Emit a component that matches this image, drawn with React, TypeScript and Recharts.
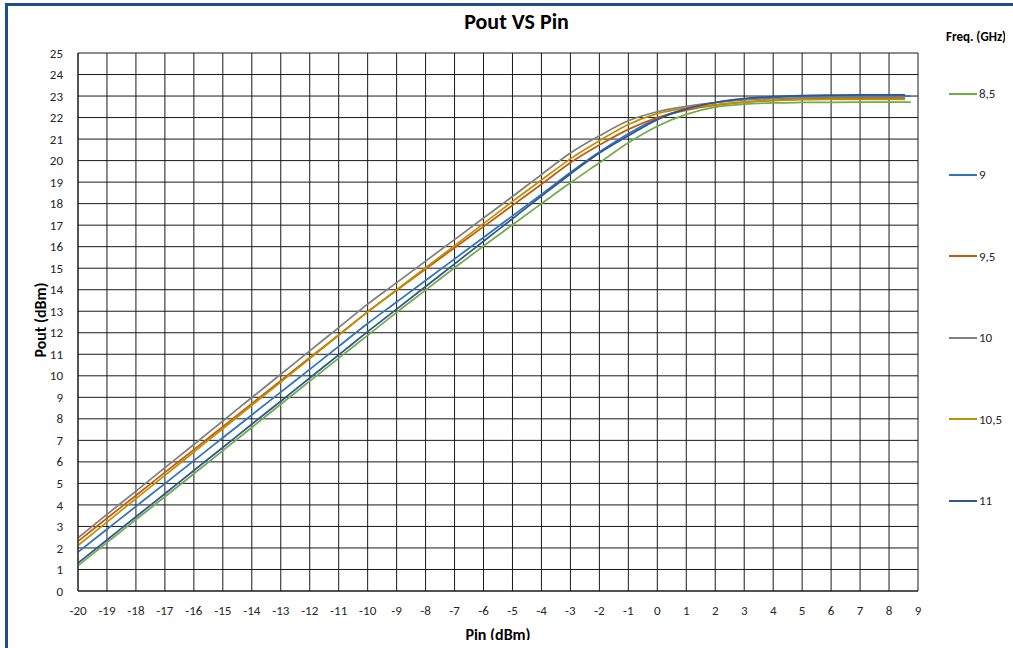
import React from 'react';
import { LineChart, Line, XAxis, YAxis, CartesianGrid, Label } from 'recharts';

// Pin sweep (dBm), shared by every frequency; last point of each series is its own end value
const pin = [-20, -19, -18, -17, -16, -15, -14, -13, -12, -11, -10, -9, -8, -7, -6, -5, -4, -3, -2, -1, 0, 1, 2, 3, 4, 5, 6, 7, 8];
const freqLabels = ['8,5', '9', '9,5', '10', '10,5', '11'];
const freqColors = ['#70AD47', '#2E75B6', '#C55A11', '#7F7F7F', '#BF9000', '#2F5597'];
const pinEnd = [8.75, 8.75, 8.55, 8.55, 8.55, 8.55];

const pout85 = [1.18, 2.25, 3.32, 4.38, 5.45, 6.52, 7.6, 8.68, 9.75, 10.82, 11.88, 12.95, 13.98, 15.02, 16.03, 17.02, 18.0, 18.97, 19.9, 20.83, 21.6, 22.15, 22.48, 22.62, 22.68, 22.7, 22.71, 22.72, 22.72, 22.72];
const pout9 = [1.81, 2.87, 3.93, 4.99, 6.06, 7.12, 8.18, 9.24, 10.3, 11.37, 12.43, 13.43, 14.43, 15.43, 16.43, 17.43, 18.43, 19.45, 20.4, 21.25, 21.95, 22.42, 22.7, 22.86, 22.94, 22.98, 23.0, 23.0, 23.0, 23.0];
const pout95 = [2.31, 3.38, 4.44, 5.51, 6.57, 7.64, 8.71, 9.77, 10.84, 11.9, 12.97, 13.97, 14.96, 15.95, 16.93, 17.92, 18.9, 19.9, 20.72, 21.45, 22.0, 22.35, 22.58, 22.72, 22.8, 22.86, 22.88, 22.89, 22.89, 22.89];
const pout10 = [2.47, 3.56, 4.64, 5.73, 6.81, 7.9, 8.99, 10.07, 11.16, 12.24, 13.33, 14.33, 15.33, 16.33, 17.33, 18.33, 19.35, 20.35, 21.15, 21.85, 22.27, 22.52, 22.7, 22.82, 22.88, 22.92, 22.94, 22.95, 22.95, 22.95];
const pout105 = [2.12, 3.2, 4.29, 5.37, 6.46, 7.54, 8.63, 9.71, 10.8, 11.88, 12.97, 14.0, 15.02, 16.05, 17.07, 18.1, 19.1, 20.08, 20.92, 21.68, 22.18, 22.45, 22.6, 22.72, 22.79, 22.83, 22.85, 22.85, 22.85, 22.85];
const pout11 = [1.3, 2.37, 3.45, 4.52, 5.6, 6.67, 7.75, 8.82, 9.9, 10.97, 12.05, 13.1, 14.15, 15.2, 16.25, 17.3, 18.35, 19.38, 20.35, 21.15, 21.9, 22.4, 22.7, 22.88, 22.97, 23.02, 23.04, 23.05, 23.05, 23.05];

const xTicks = [-20, -19, -18, -17, -16, -15, -14, -13, -12, -11, -10, -9, -8, -7, -6, -5, -4, -3, -2, -1, 0, 1, 2, 3, 4, 5, 6, 7, 8, 9];
const yTicks = [0, 1, 2, 3, 4, 5, 6, 7, 8, 9, 10, 11, 12, 13, 14, 15, 16, 17, 18, 19, 20, 21, 22, 23, 24, 25];

const allPout = [pout85, pout9, pout95, pout10, pout105, pout11];

const series = freqLabels.map((name, k) => ({
  name,
  color: freqColors[k],
  data: allPout[k].map((v, i) => ({ x: i < pin.length ? pin[i] : pinEnd[k], y: v }))
}));

const font = "Carlito, Calibri, 'Noto Sans', sans-serif";

export default function App() {
  return <div style={{ margin: -8, width: 1013, height: 648, position: 'relative', overflow: 'hidden', background: '#fff', fontFamily: font }}>
      <div style={{ position: 'absolute', left: 0, top: 8, width: 1033, textAlign: 'center', fontWeight: 'bold', fontSize: 22, color: '#000' }}>
        Pout VS Pin
      </div>
      <div style={{ position: 'absolute', left: 946, top: 29, fontWeight: 'bold', fontSize: 13, color: '#000' }}>
        Freq. (GHz)
      </div>
      {series.map((s, i) => <div key={s.name} style={{ position: 'absolute', left: 949, top: 86 + i * 81.4, display: 'flex', alignItems: 'center', fontSize: 13, color: '#262626' }}>
          <div style={{ width: 28, height: 2, background: s.color }} />
          <span style={{ marginLeft: 2 }}>{s.name}</span>
        </div>)}
      <div style={{ position: 'absolute', left: 0, top: 0 }}>
        <LineChart width={1013} height={648} margin={{ top: 53, right: 95, left: 0, bottom: 5 }}>
          <CartesianGrid stroke="#1a1a1a" strokeWidth={1} />
          <XAxis type="number" dataKey="x" domain={[-20, 9]} ticks={xTicks} interval={0} height={52}
            axisLine={{ stroke: '#1a1a1a' }} tickLine={false} tickMargin={9}
            tick={{ fontSize: 13, fill: '#262626', fontFamily: font }} allowDataOverflow>
            <Label value="Pin (dBm)" position="insideBottom" offset={3} style={{ fontSize: 16, fontWeight: 'bold', fill: '#000', fontFamily: font }} />
          </XAxis>
          <YAxis type="number" domain={[0, 25]} ticks={yTicks} interval={0} width={78}
            axisLine={{ stroke: '#1a1a1a' }} tickLine={false} tickMargin={9}
            tick={{ fontSize: 13, fill: '#262626', fontFamily: font }}>
            <Label content={() => <text x={40} y={320} transform="rotate(-90 40 320)" textAnchor="middle"
                dominantBaseline="central" style={{ fontSize: 16, fontWeight: 'bold', fill: '#000', fontFamily: font }}>
                Pout (dBm)
              </text>} />
          </YAxis>
          {series.map(s => <Line key={s.name} data={s.data} dataKey="y" name={s.name} type="monotone"
              stroke={s.color} strokeWidth={1.75} dot={false} activeDot={false} isAnimationActive={false} />)}
        </LineChart>
      </div>
      {/* chart frame, cut by the window edge on the right/bottom */}
      <div style={{ position: 'fixed', left: 5, top: 3, width: 3000, height: 3000, borderLeft: '3px solid #1F4E8C', borderTop: '3px solid #1F4E8C', zIndex: 9999, pointerEvents: 'none' }} />
    </div>;
}
